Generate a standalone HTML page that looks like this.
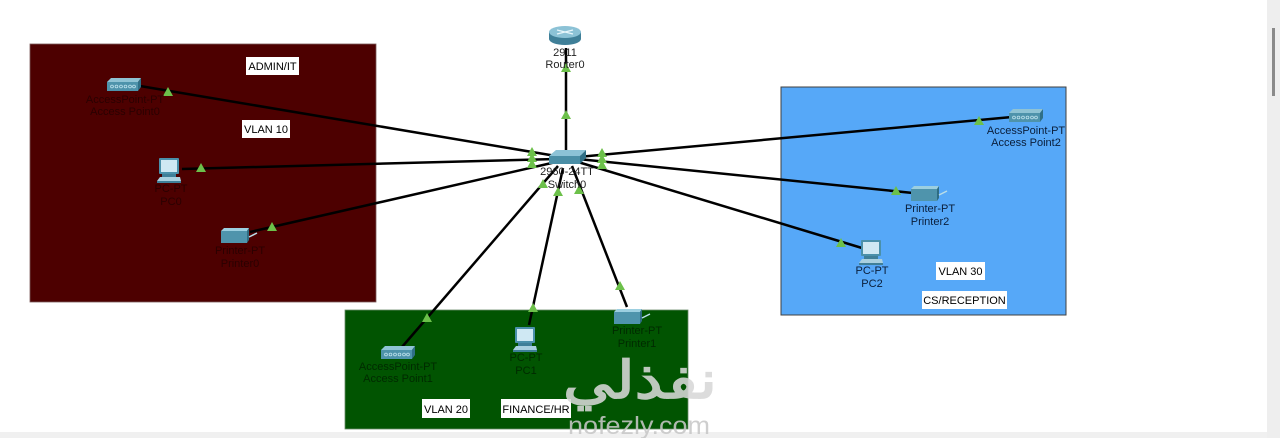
<!DOCTYPE html>
<html><head><meta charset="utf-8"><style>
html,body{margin:0;padding:0;background:#fff;}
body{width:1280px;height:438px;overflow:hidden;position:relative;font-family:"Liberation Sans",Arial,sans-serif;}
svg text{font-family:"Liberation Sans",Arial,sans-serif;}
</style></head><body>
<svg width="1280" height="438" viewBox="0 0 1280 438" xmlns="http://www.w3.org/2000/svg">
<defs>
<g id="ap">
  <polygon points="0,4 4,0 34,0 31,4" fill="#8fc3d4"/>
  <rect x="0" y="4" width="31" height="9" fill="#4e93ab"/>
  <polygon points="31,4 34,0 34,9 31,13" fill="#2f6f86"/>
  <g fill="none" stroke="#bfe3ee" stroke-width="0.8">
    <circle cx="5" cy="8.5" r="1.4"/><circle cx="9.5" cy="8.5" r="1.4"/><circle cx="14" cy="8.5" r="1.4"/><circle cx="18.5" cy="8.5" r="1.4"/><circle cx="23" cy="8.5" r="1.4"/><circle cx="27" cy="8.5" r="1.4"/>
  </g>
</g>
<g id="pc">
  <rect x="2" y="0" width="20" height="16" rx="1" fill="#4a90aa"/>
  <rect x="4" y="2" width="16" height="12" fill="#cfe8f3"/>
  <rect x="5" y="16" width="14" height="3" fill="#3f7f98"/>
  <polygon points="0,23 3,19 23,19 24,23" fill="#a9d0df"/>
  <rect x="0" y="23" width="24" height="2" fill="#3f7f98"/>
</g>
<g id="pr">
  <polygon points="0,3 3,0 28,0 26,3" fill="#9ccfe0"/>
  <rect x="0" y="3" width="26" height="12" fill="#4f94ac"/>
  <polygon points="26,3 28,0 28,12 26,15" fill="#2e6c82"/>
  <line x1="28" y1="9" x2="36" y2="5" stroke="#b8dde8" stroke-width="1.5"/>
</g>
<polygon id="tri" points="0,-5 5,4 -5,4" fill="#6cc04a"/>
</defs>

<!-- scrollbar -->
<rect x="1267" y="0" width="13" height="438" fill="#eeeeee"/>
<rect x="1272" y="28" width="3" height="68" fill="#8a8a8a"/>
<rect x="0" y="432" width="1267" height="6" fill="#f0f0f0"/>

<!-- zones -->
<rect x="30" y="44" width="346" height="258" fill="#4d0000" stroke="#7a5a5a" stroke-width="0.8"/>
<rect x="345" y="310" width="343" height="119" fill="#015401" stroke="#6a8a6a" stroke-width="0.8"/>
<rect x="781" y="87" width="285" height="228" fill="#56a8f8" stroke="#404040" stroke-width="1"/>

<!-- links -->
<g stroke="#000" stroke-width="2.5" fill="none">
  <line x1="140" y1="86" x2="556" y2="156"/>
  <line x1="182" y1="169" x2="556" y2="159"/>
  <line x1="250" y1="232" x2="556" y2="162"/>
  <line x1="566" y1="48" x2="566" y2="152"/>
  <line x1="402" y1="347" x2="558" y2="166"/>
  <line x1="529" y1="325" x2="563" y2="168"/>
  <line x1="627" y1="307" x2="572" y2="166"/>
  <line x1="1012" y1="117" x2="578" y2="157"/>
  <line x1="913" y1="193" x2="578" y2="159"/>
  <line x1="862" y1="248" x2="578" y2="162"/>
</g>

<!-- triangles -->
<g>
  <use href="#tri" x="168" y="92"/>
  <use href="#tri" x="201" y="168"/>
  <use href="#tri" x="272" y="227"/>
  <use href="#tri" x="566" y="68"/>
  <use href="#tri" x="566" y="115"/>
  <use href="#tri" x="427" y="318"/>
  <use href="#tri" x="533" y="308"/>
  <use href="#tri" x="620" y="286"/>
  <use href="#tri" x="979" y="121"/>
  <use href="#tri" x="896" y="191"/>
  <use href="#tri" x="841" y="243"/>
  <use href="#tri" x="532" y="152"/>
  <use href="#tri" x="532" y="158"/>
  <use href="#tri" x="532" y="164"/>
  <use href="#tri" x="602" y="153"/>
  <use href="#tri" x="602" y="159"/>
  <use href="#tri" x="602" y="165"/>
  <use href="#tri" x="543" y="184"/>
  <use href="#tri" x="558" y="192"/>
  <use href="#tri" x="579" y="190"/>
</g>

<!-- router -->
<g>
  <ellipse cx="565" cy="39" rx="16" ry="6" fill="#3f7f98"/>
  <rect x="549" y="32" width="32" height="7" fill="#3f7f98"/>
  <ellipse cx="565" cy="32" rx="16" ry="6" fill="#8cc2d6"/>
  <g stroke="#e8f6fb" stroke-width="1.2"><line x1="557" y1="30" x2="573" y2="34"/><line x1="557" y1="34" x2="573" y2="30"/></g>
</g>
<!-- switch -->
<g>
  <polygon points="549,156 556,150 586,150 580,156" fill="#8cc2d6"/>
  <rect x="549" y="156" width="31" height="8" fill="#4a8ea6"/>
  <polygon points="580,156 586,150 586,158 580,164" fill="#2f6f86"/>
</g>

<!-- devices -->
<use href="#ap" x="107" y="78"/>
<use href="#pc" x="157" y="158"/>
<use href="#pr" x="221" y="228"/>
<use href="#ap" x="381" y="346"/>
<use href="#pc" x="513" y="327"/>
<use href="#pr" x="614" y="309"/>
<use href="#ap" x="1009" y="109"/>
<use href="#pr" x="911" y="186"/>
<use href="#pc" x="859" y="240"/>

<!-- device labels -->
<g font-size="11" text-anchor="middle" fill="#000">
  <text x="125" y="103" fill="#2a0000">AccessPoint-PT</text>
  <text x="125" y="115" fill="#2a0000">Access Point0</text>
  <text x="171" y="192" fill="#2a0000">PC-PT</text>
  <text x="171" y="205" fill="#2a0000">PC0</text>
  <text x="240" y="254" fill="#2a0000">Printer-PT</text>
  <text x="240" y="267" fill="#2a0000">Printer0</text>
  <text x="565" y="56" fill="#222">2911</text>
  <text x="565" y="68" fill="#222">Router0</text>
  <text x="567" y="175" fill="#222">2960-24TT</text>
  <text x="567" y="188" fill="#222">Switch0</text>
  <text x="398" y="370" fill="#002a00">AccessPoint-PT</text>
  <text x="398" y="382" fill="#002a00">Access Point1</text>
  <text x="526" y="361" fill="#002a00">PC-PT</text>
  <text x="526" y="374" fill="#002a00">PC1</text>
  <text x="637" y="334" fill="#002a00">Printer-PT</text>
  <text x="637" y="347" fill="#002a00">Printer1</text>
  <text x="1026" y="134" fill="#0a1e3a">AccessPoint-PT</text>
  <text x="1026" y="146" fill="#0a1e3a">Access Point2</text>
  <text x="930" y="212" fill="#0a1e3a">Printer-PT</text>
  <text x="930" y="225" fill="#0a1e3a">Printer2</text>
  <text x="872" y="274" fill="#0a1e3a">PC-PT</text>
  <text x="872" y="287" fill="#0a1e3a">PC2</text>
</g>

<!-- zone labels -->
<g font-size="11" text-anchor="middle" fill="#000">
  <rect x="246" y="57" width="53" height="18" fill="#fff"/><text x="272.5" y="70">ADMIN/IT</text>
  <rect x="242" y="120" width="48" height="18" fill="#fff"/><text x="266" y="133">VLAN 10</text>
  <rect x="422" y="399" width="48" height="19" fill="#fff"/><text x="446" y="413">VLAN 20</text>
  <rect x="501" y="399" width="70" height="19" fill="#fff"/><text x="536" y="413">FINANCE/HR</text>
  <rect x="936" y="262" width="49" height="18" fill="#fff"/><text x="960.5" y="275">VLAN 30</text>
  <rect x="922" y="291" width="85" height="18" fill="#fff"/><text x="964.5" y="304">CS/RECEPTION</text>
</g>

<!-- watermark -->
<g fill="#d8d8d8" opacity="0.88">
  <text x="563" y="398" font-size="52" font-weight="bold" textLength="154" lengthAdjust="spacingAndGlyphs" font-family="'DejaVu Sans',sans-serif">نفذلي</text>
  <text x="568" y="434" font-size="25" textLength="142" lengthAdjust="spacingAndGlyphs" fill="#c8c8c8" font-family="'DejaVu Sans',sans-serif">nofezly.com</text>
</g>
</svg>
</body></html>
